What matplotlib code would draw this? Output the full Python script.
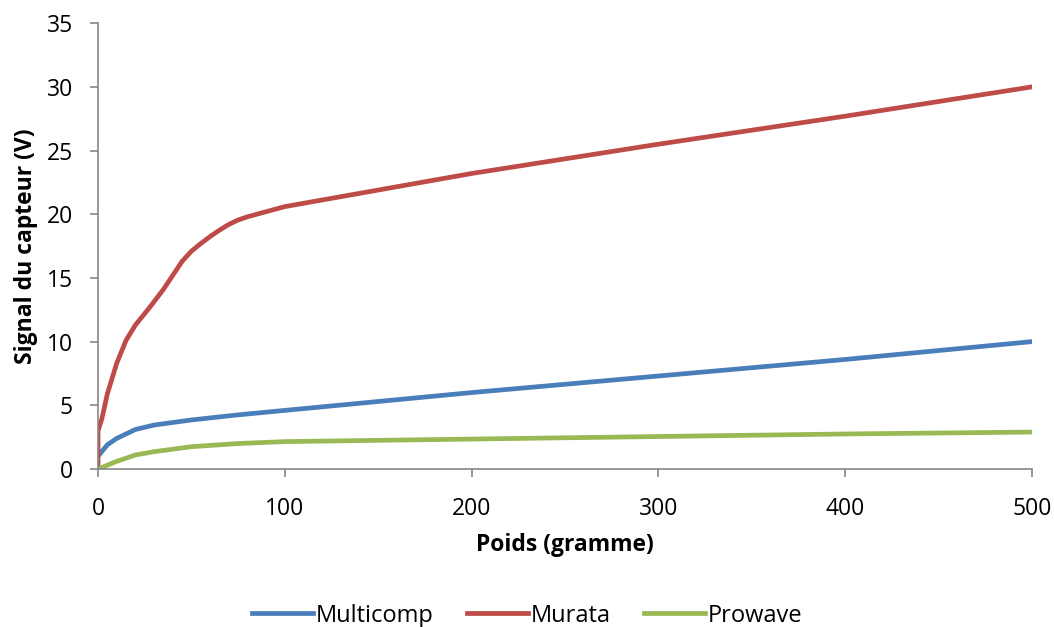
import matplotlib
matplotlib.use("Agg")
import matplotlib.pyplot as plt

# Données
poids_murata = [0, 0, 2, 5, 10, 15, 20, 28, 35, 40, 45, 50, 55, 60, 65, 70, 75, 80, 90, 100,
                200, 300, 400, 500]
murata = [0, 3.0, 3.9, 5.9, 8.3, 10.1, 11.3, 12.75, 14.1, 15.2, 16.3, 17.1, 17.7, 18.25, 18.75,
          19.2, 19.55, 19.8, 20.2, 20.6, 23.2, 25.5, 27.7, 30.0]

poids_multi = [0, 5, 10, 20, 30, 50, 75, 100, 200, 300, 400, 500]
multicomp = [1.0, 1.9, 2.4, 3.1, 3.45, 3.85, 4.25, 4.6, 6.0, 7.3, 8.6, 10.0]

poids_prowave = [0, 10, 20, 30, 50, 75, 100, 200, 300, 400, 500]
prowave = [0.0, 0.6, 1.1, 1.36, 1.75, 2.0, 2.15, 2.35, 2.55, 2.75, 2.9]

x_ticks = [0, 100, 200, 300, 400, 500]
y_ticks = [0, 5, 10, 15, 20, 25, 30, 35]

plt.rcParams["font.family"] = ["Open Sans", "DejaVu Sans"]

fig = plt.figure(figsize=(10.54, 6.27), dpi=100)
ax = fig.add_axes([0.093, 0.252, 0.886, 0.711])

ax.plot(poids_multi, multicomp, color="#4A7EBB", lw=3.4, label="Multicomp", solid_joinstyle="round")
ax.plot(poids_murata, murata, color="#BE4B48", lw=3.4, label="Murata", solid_joinstyle="round")
ax.plot(poids_prowave, prowave, color="#98B954", lw=3.4, label="Prowave", solid_joinstyle="round")

ax.set_xlim(0, 500)
ax.set_ylim(0, 35)
ax.set_xticks(x_ticks)
ax.set_yticks(y_ticks)
ax.tick_params(axis="both", direction="out", length=6, width=1.2, color="#868686",
               labelsize=16.5)
ax.tick_params(axis="x", pad=14)
ax.tick_params(axis="y", pad=12)

for side in ("top", "right"):
    ax.spines[side].set_visible(False)
for side in ("left", "bottom"):
    ax.spines[side].set_color("#868686")
    ax.spines[side].set_linewidth(1.2)

ax.set_xlabel("Poids (gramme)", fontsize=16.5, fontweight="bold", labelpad=9)
ax.set_ylabel("Signal du capteur (V)", fontsize=16.5, fontweight="bold", labelpad=6)

fig.legend(loc="lower center", bbox_to_anchor=(0.5, -0.035), ncol=3, frameon=False,
           fontsize=17, handlelength=2.6, handletextpad=0.1, columnspacing=1.4)

fig.savefig("out.png", dpi=100)
